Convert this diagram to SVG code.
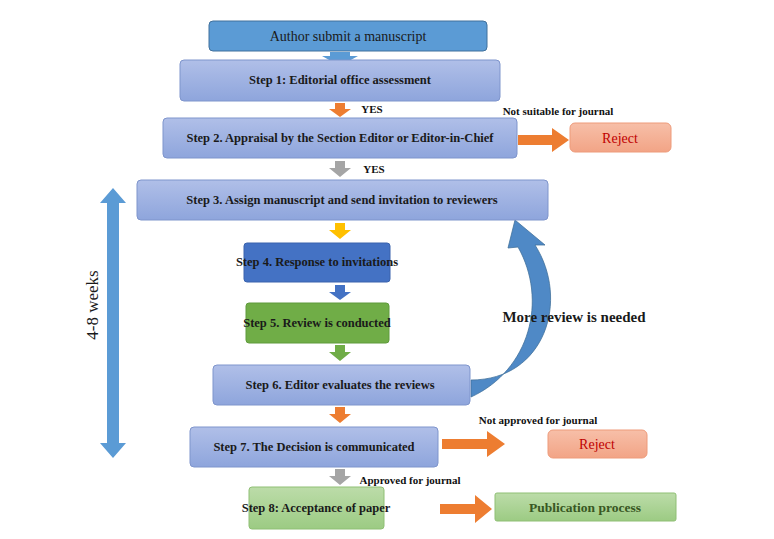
<svg xmlns="http://www.w3.org/2000/svg" width="774" height="539" viewBox="0 0 774 539">
<defs>
<linearGradient id="gb" x1="0" y1="0" x2="0" y2="1"><stop offset="0" stop-color="#b0bfe8"/><stop offset="1" stop-color="#8ea5dc"/></linearGradient>
<linearGradient id="gg" x1="0" y1="0" x2="0" y2="1"><stop offset="0" stop-color="#bcdca9"/><stop offset="1" stop-color="#9ccb83"/></linearGradient>
<linearGradient id="gr" x1="0" y1="0" x2="0" y2="1"><stop offset="0" stop-color="#f7bfa8"/><stop offset="1" stop-color="#f2a486"/></linearGradient>
</defs>
<style>
text{font-family:'Liberation Serif','Times New Roman','DejaVu Serif',serif;text-anchor:middle;dominant-baseline:central}
.b{font-weight:bold;font-size:12.5px;fill:#1a1a1a}
.s{font-weight:bold;font-size:11px;fill:#111}
.blue{fill:url(#gb);stroke:#7f95cc;stroke-width:1}
.green{fill:url(#gg);stroke:#8fbf74;stroke-width:1}
.red{fill:url(#gr);stroke:#ee9b7b;stroke-width:1}
</style>
<rect width="774" height="539" fill="#fff"/>
<g id="connectors">
<path d="M330,52 h20 v4 h8 l-18,10 l-18,-10 h8z" fill="#5b9bd5"/>
<path d="M335,103 h10 v6 h6 l-11,8 l-11,-8 h6z" fill="#ed7d31"/>
<path d="M335,161 h10 v7 h6 l-11,9 l-11,-9 h6z" fill="#a5a5a5"/>
<path d="M335,223 h10 v7 h6 l-11,9 l-11,-9 h6z" fill="#ffc000"/>
<path d="M335,285 h10 v7 h6 l-11,8 l-11,-8 h6z" fill="#4472c4"/>
<path d="M335,345 h10 v7 h6 l-11,9 l-11,-9 h6z" fill="#70ad47"/>
<path d="M335,407 h10 v7 h6 l-11,9 l-11,-9 h6z" fill="#ed7d31"/>
<path d="M335,469 h10 v7 h6 l-11,9 l-11,-9 h6z" fill="#a5a5a5"/>
<path d="M518,135 h34 v-7 l17,12 l-17,12 v-7 h-34z" fill="#ed7d31"/>
<path d="M442,439 h45 v-8 l18,13 l-18,13 v-8 h-45z" fill="#ed7d31"/>
<path d="M440,504 h35 v-9 l17,14 l-17,14 v-9 h-35z" fill="#ed7d31"/>
<path d="M113,188 l13,15 h-7 v240 h7 l-13,15 l-13,-15 h7 v-240 h-7z" fill="#5b9bd5"/>
<path d="M471,380 C545,380 570,300 535,245 L545,245 L515,220 L508,248 L518,247 C548,300 530,370 471,397z" fill="#4f89c6" stroke="#41719c" stroke-width="0.8"/>
</g>
<g id="author"><rect x="209" y="21" width="278" height="30" rx="4" fill="#5b9bd5" stroke="#41719c"/><text x="348" y="36" style="font-size:14px;fill:#1a1a1a">Author submit a manuscript</text></g>
<g id="step1"><rect class="blue" x="180" y="60" width="320" height="41" rx="4"/><text class="b" x="340" y="80">Step 1: Editorial office assessment</text></g>
<g id="yes1"><text class="s" x="372" y="109">YES</text></g>
<g id="notsuitable"><text class="s" x="558" y="111">Not suitable for journal</text></g>
<g id="step2"><rect class="blue" x="163" y="118" width="354" height="40" rx="4"/><text class="b" x="340" y="138">Step 2. Appraisal by the Section Editor or Editor-in-Chief</text></g>
<g id="reject1"><rect class="red" x="570" y="123" width="101" height="29" rx="5"/><text x="620" y="138" style="font-size:14px;fill:#c00000">Reject</text></g>
<g id="yes2"><text class="s" x="374" y="169">YES</text></g>
<g id="step3"><rect class="blue" x="137" y="180" width="411" height="40" rx="4"/><text class="b" x="342" y="200">Step 3. Assign manuscript and send invitation to reviewers</text></g>
<g id="step4"><rect x="244" y="243" width="146" height="39" rx="3" fill="#4472c4" stroke="#3a63ad"/><text class="b" x="317" y="262">Step 4. Response to invitations</text></g>
<g id="step5"><rect x="246" y="303" width="143" height="40" rx="3" fill="#70ad47" stroke="#5f9a3c"/><text class="b" x="317" y="323">Step 5. Review is conducted</text></g>
<g id="more"><text x="574" y="317" style="font-weight:bold;font-size:15px;fill:#1a1a1a">More review is needed</text></g>
<g id="step6"><rect class="blue" x="213" y="365" width="257" height="40" rx="4"/><text class="b" x="340" y="385">Step 6. Editor evaluates the reviews</text></g>
<g id="weeks"><text transform="translate(92,305) rotate(-90)" style="font-size:17px;fill:#1a1a1a">4-8 weeks</text></g>
<g id="notapproved"><text class="s" x="538" y="420">Not approved for journal</text></g>
<g id="step7"><rect class="blue" x="190" y="427" width="248" height="40" rx="4"/><text class="b" x="314" y="447">Step 7. The Decision is communicated</text></g>
<g id="reject2"><rect class="red" x="548" y="430" width="99" height="28" rx="5"/><text x="597" y="444" style="font-size:14px;fill:#c00000">Reject</text></g>
<g id="approved"><text class="s" x="410" y="480">Approved for journal</text></g>
<g id="step8"><rect class="green" x="249" y="487" width="135" height="42" rx="3"/><text class="b" x="316" y="508">Step 8: Acceptance of paper</text></g>
<g id="publication"><rect class="green" x="495" y="493" width="181" height="28" rx="2"/><text x="585" y="507" style="font-weight:bold;font-size:13.5px;fill:#385723">Publication process</text></g>
</svg>
